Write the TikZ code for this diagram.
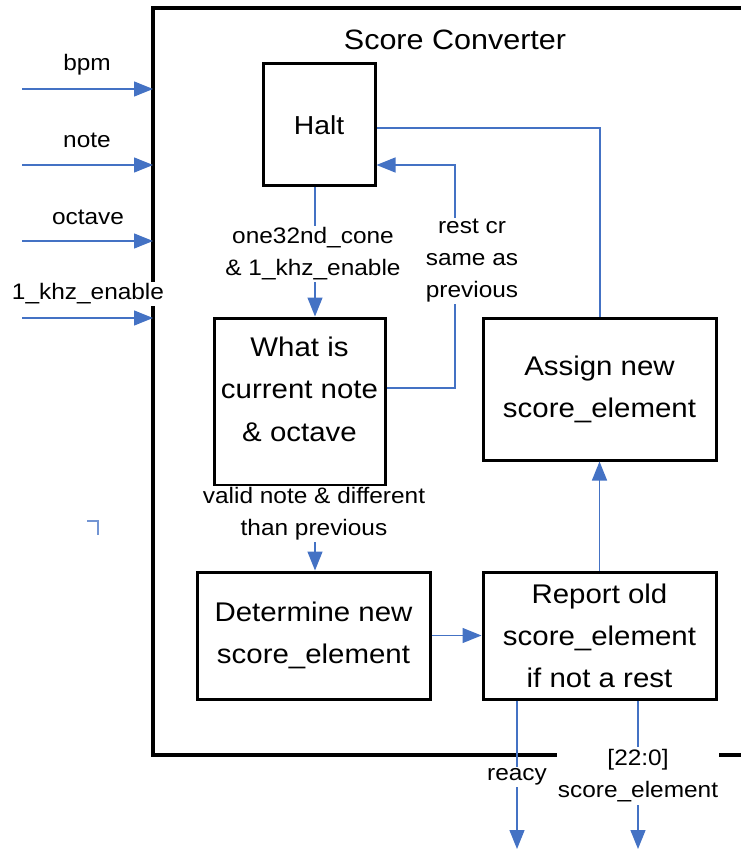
\documentclass[tikz,border=0pt]{standalone}
\usepackage{fontspec}
\setmainfont[FakeStretch=1.09]{Liberation Sans}
\usetikzlibrary{arrows.meta}
\definecolor{lineblue}{HTML}{4472C4}
\begin{document}
\begin{tikzpicture}[x=1pt,y=-1pt,
  stepbox/.style={draw=black, line width=3pt, inner sep=0pt, align=center,
    font=\fontsize{27}{42}\selectfont},
  boxtext/.style={inner sep=0pt, align=center, font=\fontsize{27}{42.5}\selectfont},
  conn/.style={draw=lineblue, line width=1.3pt},
  arr/.style={conn, -{Triangle[length=19pt,width=15pt]}},
  lbl/.style={fill=white, inner sep=1.5pt, align=center,
    font=\fontsize{22.4}{32}\selectfont},
  outerbox/.style={draw=black, line width=4pt}
]
\useasboundingbox (0,0) rectangle (740,850);

% outer block
\draw[outerbox] (742,8) -- (153,8) -- (153,755) -- (742,755);
\coordinate (boxL) at (153,0);

\node[font=\fontsize{28}{34}\selectfont, anchor=base] (title) at (455,50) {Score Converter};

% boxes
\node[stepbox, minimum width=112pt, minimum height=122pt, font=\fontsize{26}{34}\selectfont] (Halt) at (319,125) {Halt};
\node[stepbox, minimum width=171pt, minimum height=167pt] (What) at (299.5,401.5) {};
\node[boxtext] (WhatT) at (299.5,389) {What is\\current note\\\& octave};
\node[stepbox, minimum width=233pt, minimum height=142pt] (Assign) at (599.5,389) {Assign new\\score\_element};
\node[stepbox, minimum width=233pt, minimum height=127pt] (Determine) at (313.5,635.5) {Determine new\\score\_element};
\node[stepbox, minimum width=233pt, minimum height=127pt] (Report) at (599.5,635.5) {Report old\\score\_element\\if not a rest};

% inputs
\coordinate (i1) at (22,89);
\coordinate (i2) at (22,165);
\coordinate (i3) at (22,241);
\coordinate (i4) at (22,318);
\draw[arr] (i1) -- (i1 -| boxL);
\draw[arr] (i2) -- (i2 -| boxL);
\draw[arr] (i3) -- (i3 -| boxL);
\draw[arr] (i4) -- (i4 -| boxL);
\node[lbl] (Lbpm) at (87,65) {bpm};
\node[lbl] (Lnote) at (87,140) {note};
\node[lbl] (Loct) at (88,217) {octave};
\node[lbl] (Lkhz) at (88,294) {1\_khz\_enable};

% internal connectors
\coordinate (xa) at (315,0);
\draw[arr] (Halt.south -| xa) -- (What.north -| xa);
\node[lbl] (L1) at (313,254) {one32nd\_cone\\\& 1\_khz\_enable};

\coordinate (k1) at (455,388);
\coordinate (k2) at (455,165);
\draw[arr] (What.east |- k1) -- (k1) -- (k2) -- (Halt.east |- k2);
\node[lbl] (L2) at (472,261) {rest cr\\same as\\previous};

\coordinate (k3) at (600,128);
\draw[conn] (Assign.north -| k3) -- (k3) -- (Halt.east |- k3);

\draw[arr] (What.south -| xa) -- (Determine.north -| xa);
\node[lbl] (L3) at (314,514) {valid note \& different\\than previous};

\draw[arr] (Determine.east) -- (Report.west);
\draw[arr] (Report.north) -- (Assign.south);

% outputs
\coordinate (o1) at (517,849);
\coordinate (o2) at (638,849);
\draw[arr] (Report.south -| o1) -- (o1);
\draw[arr] (Report.south -| o2) -- (o2);
\node[lbl] (L4) at (517,777) {reacy};
\node[lbl, inner xsep=0.5pt, inner ysep=3pt] (L5) at (638,776) {[22:0]\\score\_element};

% small corner mark
\draw[conn, draw=lineblue!75] (87,521) -- (98,521) -- (98,535);
\end{tikzpicture}
\end{document}
